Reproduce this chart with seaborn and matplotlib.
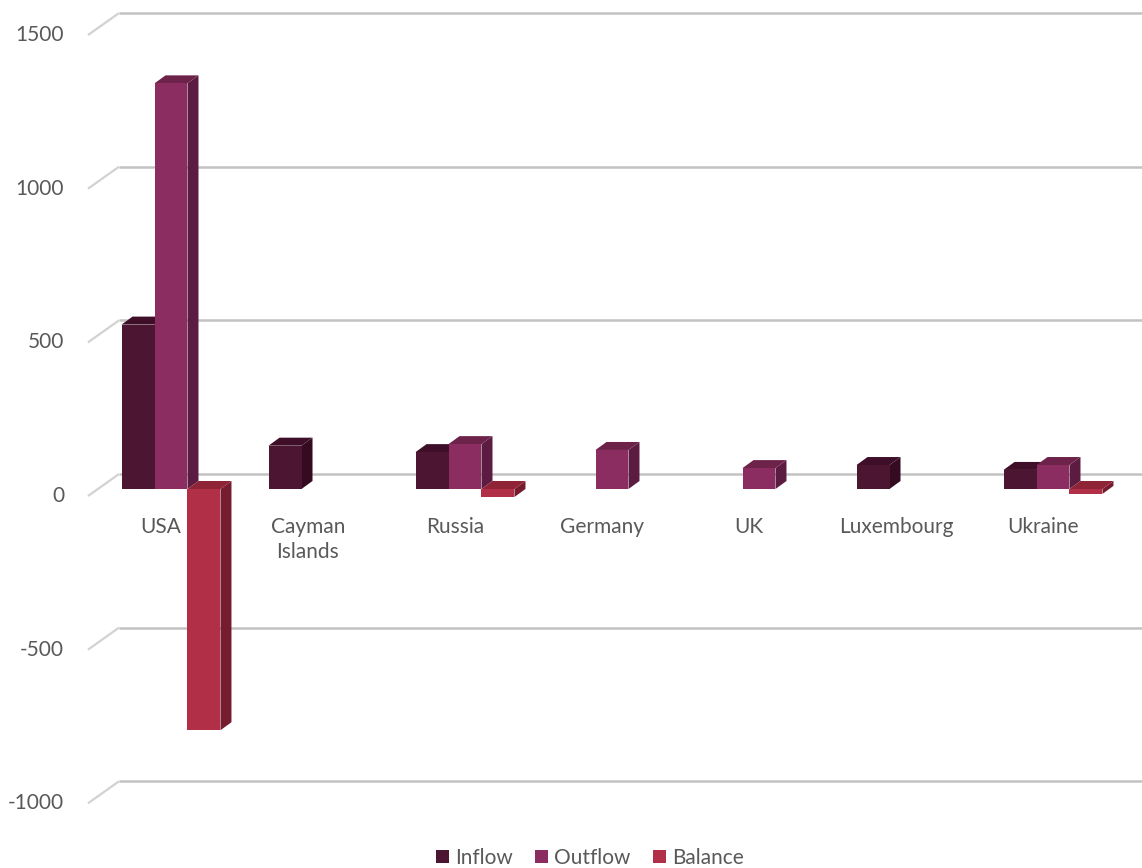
import numpy as np
import pandas as pd
import seaborn as sns
import matplotlib.pyplot as plt
import matplotlib.colors as mcolors
from matplotlib.patches import Polygon
from matplotlib.transforms import ScaledTranslation

countries = ['USA', 'Cayman\nIslands', 'Russia', 'Germany', 'UK', 'Luxembourg', 'Ukraine']
inflow = [535, 141, 120, np.nan, np.nan, 78, 62]
outflow = [1320, np.nan, 146, 127, 68, np.nan, 78]
balance = [-785, np.nan, -26, np.nan, np.nan, np.nan, -16]
flows = ['Inflow', 'Outflow', 'Balance']
y_ticks = [-1000, -500, 0, 500, 1000, 1500]

front_col = ['#4c1532', '#8b2d60', '#b22f48']
side_col = ['#350b21', '#5c1b40', '#761c2e']
top_col = ['#3f0f29', '#6c2249', '#8e2436']

df = pd.DataFrame({'country': countries * 3,
                   'flow': [f for f in flows for _ in countries],
                   'value': inflow + outflow + balance})

sns.set_theme(style='white')
plt.rcParams['font.family'] = ['Lato', 'DejaVu Sans']
txt = '#595959'

# pixel layout of the picture (figure is 1142 x 868 px at dpi 100)
W, H = 1142, 868
cat0, px_cat = 171, 147.0      # x px of first category, px per category
zero_px, px_val = 489, 0.3073  # y px of value 0, px per unit
ax_left = 80

fig = plt.figure(figsize=(W / 100, H / 100), dpi=100)
ax = fig.add_axes([ax_left / W, 0, 1 - ax_left / W, 1])

sns.barplot(data=df, x='country', y='value', hue='flow', order=countries,
            hue_order=flows, palette=front_col, saturation=1, width=0.673,
            errorbar=None, linewidth=0, edgecolor='none', ax=ax)

x_lo = (ax_left - cat0) / px_cat
x_hi = (W - cat0) / px_cat
ax.set_xlim(x_lo, x_hi)
ax.set_ylim((zero_px - H) / px_val, zero_px / px_val)

# 3d look: depth of each bar
ddx = 11 / px_cat
ddy = 8 / px_val
bars = [p for p in ax.patches if np.isfinite(p.get_height()) and p.get_height() != 0]
bars.sort(key=lambda p: p.get_x())
hexes = [mcolors.to_hex(c) for c in front_col]
for i, p in enumerate(bars):
    k = hexes.index(mcolors.to_hex(p.get_facecolor()))
    x0, x1 = p.get_x(), p.get_x() + p.get_width()
    y0 = min(p.get_y(), p.get_y() + p.get_height())
    y1 = max(p.get_y(), p.get_y() + p.get_height())
    z = 2 + i * 0.01
    ax.add_patch(Polygon([(x1, y0), (x1 + ddx, y0 + ddy), (x1 + ddx, y1 + ddy), (x1, y1)],
                         closed=True, fc=side_col[k], ec='none', zorder=z))
    ax.add_patch(Polygon([(x0, y1), (x0 + ddx, y1 + ddy), (x1 + ddx, y1 + ddy), (x1, y1)],
                         closed=True, fc=top_col[k], ec='none', zorder=z))
    p.set_zorder(z + 0.005)

# perspective gridlines: floor front edge -> back wall
fx = (88 - cat0) / px_cat
bx = (119 - cat0) / px_cat
f_off = -7 / px_val
b_off = 15 / px_val
for v in y_ticks:
    ax.plot([fx, bx], [v + f_off, v + b_off], color='#d2d2d2', lw=1.6,
            zorder=0, solid_capstyle='butt')
    ax.plot([bx, x_hi], [v + b_off, v + b_off], color='#c2c2c2', lw=1.8,
            zorder=0, solid_capstyle='butt')

ax.set_yticks(y_ticks, labels=[str(t) for t in y_ticks])
ax.tick_params(axis='y', length=0, pad=11.5, labelsize=15, labelcolor=txt)
for lab in ax.get_yticklabels():
    lab.set_transform(lab.get_transform() + ScaledTranslation(0, -0.05, fig.dpi_scale_trans))

ax.set_xticks(range(len(countries)), labels=countries)
ax.spines['bottom'].set_position(('data', 0))
ax.tick_params(axis='x', length=0, pad=20, labelsize=15, labelcolor=txt)
for lab in ax.get_xticklabels():
    lab.set_linespacing(1.3)
    lab.set_transform(lab.get_transform() + ScaledTranslation(-0.10, 0, fig.dpi_scale_trans))

for s in ax.spines.values():
    s.set_visible(False)
ax.set_xlabel('')
ax.set_ylabel('')

leg = ax.get_legend()
handles = leg.legend_handles
labels = [t.get_text() for t in leg.get_texts()]
leg.remove()
fig.legend(handles, labels, loc='center', bbox_to_anchor=(590 / W, 10 / H), ncol=3,
           frameon=False, fontsize=15, labelcolor=txt, handlelength=0.6,
           handleheight=0.6, handletextpad=0.3, columnspacing=1.1)

fig.savefig('out.png', dpi=100)
